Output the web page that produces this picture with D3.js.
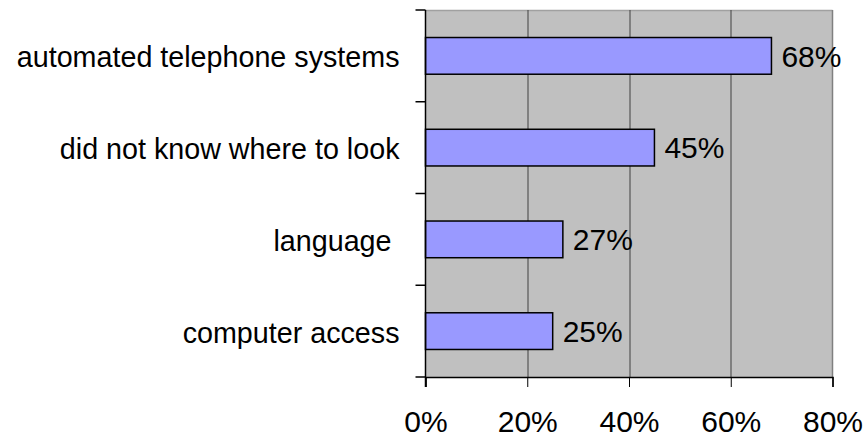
<!DOCTYPE html>
<html>
<head>
<meta charset="utf-8">
<script src="https://cdn.jsdelivr.net/npm/d3@7"></script>
<style>
  html, body { margin: 0; padding: 0; background: #fff; }
  svg { display: block; }
  text { font-family: "Liberation Sans", Arial, sans-serif; fill: #000; }
</style>
</head>
<body>
<svg id="chart" width="866" height="439"></svg>
<script>
// Reasons reported, top to bottom
const categories = ["automated telephone systems", "did not know where to look", "language ", "computer access"];
const shares = [68, 45, 27, 25];
const tickValues = [0, 20, 40, 60, 80];

const width = 866, height = 439;
const margin = { top: 10, right: 33.5, bottom: 62, left: 425.5 };
const innerW = width - margin.left - margin.right;
const innerH = height - margin.top - margin.bottom;

const svg = d3.select("#chart");
const g = svg.append("g").attr("transform", `translate(${margin.left},${margin.top})`);

const x = d3.scaleLinear().domain([0, 80]).range([0, innerW]);
const y = d3.scaleBand().domain(categories).range([0, innerH]).paddingInner(0.6).paddingOuter(0.3);

// plot area
g.append("rect")
  .attr("x", 0).attr("y", 0).attr("width", innerW).attr("height", innerH)
  .attr("fill", "#c0c0c0");
g.append("line").attr("x1", 0).attr("x2", innerW).attr("y1", 0.5).attr("y2", 0.5)
  .attr("stroke", "#a0a0a0").attr("stroke-width", 1.5);
g.append("line").attr("x1", innerW).attr("x2", innerW).attr("y1", 0).attr("y2", innerH)
  .attr("stroke", "#808080").attr("stroke-width", 1.5);

// vertical gridlines
g.selectAll("line.grid")
  .data(tickValues.filter(t => t > 0 && t < 80))
  .join("line")
  .attr("class", "grid")
  .attr("x1", d => Math.round(x(d)) + 0.5).attr("x2", d => Math.round(x(d)) + 0.5)
  .attr("y1", 0).attr("y2", innerH)
  .attr("stroke", "#404040").attr("stroke-width", 1);

// bars
const rows = categories.map((c, i) => ({ cat: c, v: shares[i] }));
g.selectAll("rect.bar")
  .data(rows)
  .join("rect")
  .attr("class", "bar")
  .attr("x", 0)
  .attr("y", d => y(d.cat))
  .attr("width", d => x(d.v))
  .attr("height", y.bandwidth())
  .attr("fill", "#9999ff")
  .attr("stroke", "#000")
  .attr("stroke-width", 1.5);

// value labels
g.selectAll("text.val")
  .data(rows)
  .join("text")
  .attr("class", "val")
  .attr("x", d => x(d.v) + 10)
  .attr("y", d => y(d.cat) + y.bandwidth() / 2)
  .attr("dy", "0.36em")
  .style("font-size", "30px")
  .text(d => d.v + "%");

// bottom axis
const xAxis = d3.axisBottom(x)
  .tickValues(tickValues)
  .tickFormat(d => d + "%")
  .tickSize(10)
  .tickPadding(24);
const gx = g.append("g").attr("transform", `translate(0,${innerH})`).call(xAxis);
gx.select(".domain").attr("stroke", "#000").attr("stroke-width", 1.5);
gx.selectAll(".tick line").attr("stroke", "#000");
gx.selectAll(".tick text").style("font-size", "30px").attr("dy", "0.71em");

// left axis with ticks at category boundaries
const yEdge = d3.scaleLinear().domain([0, categories.length]).range([0, innerH]);
const gy = g.append("g");
gy.append("line").attr("x1", 0).attr("x2", 0).attr("y1", 0).attr("y2", innerH + 10)
  .attr("stroke", "#000").attr("stroke-width", 1.5);
gy.selectAll("line.tk")
  .data(d3.range(categories.length + 1))
  .join("line")
  .attr("class", "tk")
  .attr("x1", -10).attr("x2", 0)
  .attr("y1", d => yEdge(d)).attr("y2", d => yEdge(d))
  .attr("stroke", "#000").attr("stroke-width", 1.5);

gy.selectAll("text.cat")
  .data(categories)
  .join("text")
  .attr("class", "cat")
  .attr("x", -26)
  .attr("y", d => y(d) + y.bandwidth() / 2)
  .attr("dy", "0.4em")
  .attr("text-anchor", "end")
  .style("font-size", "28.7px")
  .style("white-space", "pre")
  .text(d => d);
</script>
</body>
</html>
